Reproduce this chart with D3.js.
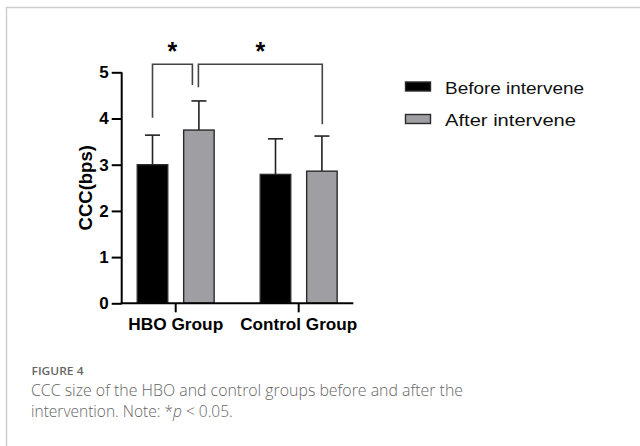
<!DOCTYPE html>
<html>
<head>
<meta charset="utf-8">
<script src="https://cdn.jsdelivr.net/npm/d3@7/dist/d3.min.js"></script>
<style>
  html, body { margin: 0; padding: 0; background: #fff; }
  svg { display: block; }
</style>
</head>
<body>
<svg id="chart" width="640" height="446"></svg>
<script>
// Groups, series and values (CCC, bps)
const groups = ["HBO Group", "Control Group"];
const seriesNames = ["Before intervene", "After intervene"];
const meanBefore = [3.0, 2.79];
const meanAfter = [3.75, 2.86];
const sdBefore = [0.64, 0.77];
const sdAfter = [0.63, 0.76];
const yTicks = [0, 1, 2, 3, 4, 5];
// Significant comparisons: [groupIndex, seriesIndex] pairs
const comparisons = [
  { a: [0, 0], b: [0, 1], label: "*" },
  { a: [0, 1], b: [1, 1], label: "*" }
];
const captionTitle = "FIGURE 4";
const captionLine1 = "CCC size of the HBO and control groups before and after the";

const seriesFill = ["#000000", "#9f9fa3"];
const svg = d3.select("#chart");

// Frame
svg.append("path")
  .attr("d", "M6.5,446 V7.5 H640")
  .attr("fill", "none").attr("stroke", "#cfcfcf").attr("stroke-width", 1.5);

const y = d3.scaleLinear().domain([0, 5]).range([303.3, 72.3]);
const x = d3.scaleBand().domain(groups).range([114.2, 360.2]).padding(0);
const xs = d3.scalePoint().domain(seriesNames).range([-23.2, 23.2]);
const barW = 30.5;
const axisX = 121.7;

const rows = [];
groups.forEach((g, i) => {
  rows.push({ g, s: seriesNames[0], v: meanBefore[i], sd: sdBefore[i], k: 0 });
  rows.push({ g, s: seriesNames[1], v: meanAfter[i], sd: sdAfter[i], k: 1 });
});
const cx = d => x(d.g) + x.bandwidth() / 2 + xs(d.s);

// Error bars (upper only)
const eb = svg.append("g").attr("stroke", "#222").attr("stroke-width", 1.6);
eb.selectAll("line.v").data(rows).join("line")
  .attr("x1", cx).attr("x2", cx)
  .attr("y1", d => y(d.v)).attr("y2", d => y(d.v + d.sd));
eb.selectAll("line.c").data(rows).join("line")
  .attr("x1", d => cx(d) - 7.5).attr("x2", d => cx(d) + 7.5)
  .attr("y1", d => y(d.v + d.sd)).attr("y2", d => y(d.v + d.sd));

// Bars
svg.append("g").selectAll("rect").data(rows).join("rect")
  .attr("x", d => cx(d) - barW / 2)
  .attr("width", barW)
  .attr("y", d => y(d.v))
  .attr("height", d => y(0) - y(d.v))
  .attr("fill", d => seriesFill[d.k])
  .attr("stroke", "#2a2a2a").attr("stroke-width", 1.4);

// Y axis
const yAxis = svg.append("g")
  .attr("transform", `translate(${axisX},0)`)
  .call(d3.axisLeft(y).tickValues(yTicks).tickFormat(d3.format("d")).tickSize(10).tickPadding(3));
yAxis.select(".domain").attr("stroke", "#000").attr("stroke-width", 2).attr("d", `M0,${y(5)}V${y(0)}`);
yAxis.selectAll(".tick line").attr("stroke", "#000").attr("stroke-width", 2);
yAxis.selectAll(".tick text")
  .attr("font-family", "Liberation Sans, Arial, sans-serif")
  .attr("font-weight", "bold").attr("font-size", 17).attr("fill", "#000");

// X axis
const xAxis = svg.append("g")
  .attr("transform", `translate(0,${y(0)})`)
  .call(d3.axisBottom(x).tickSize(9).tickPadding(6));
xAxis.select(".domain").attr("stroke", "#000").attr("stroke-width", 2).attr("d", `M${axisX - 1},0H353.3`);
xAxis.selectAll(".tick line").attr("stroke", "#000").attr("stroke-width", 2);
xAxis.selectAll(".tick text")
  .attr("font-family", "Liberation Sans, Arial, sans-serif")
  .attr("font-weight", "bold").attr("font-size", 17).attr("fill", "#000")
  .attr("dy", "0.71em")
  .attr("textLength", (d, i) => [95, 117][i])
  .attr("lengthAdjust", "spacingAndGlyphs");

// Y axis title
svg.append("text")
  .attr("transform", `translate(91.5,${(y(0) + y(5)) / 2}) rotate(-90)`)
  .attr("text-anchor", "middle")
  .attr("font-family", "Liberation Sans, Arial, sans-serif")
  .attr("font-weight", "bold").attr("font-size", 18.5)
  .text("CCC(bps)");

// Significance brackets
const bracketTop = 64.3;
const pt = (gi, si) => x(groups[gi]) + x.bandwidth() / 2 + xs(seriesNames[si]);
const bracketDefs = [
  { x1: pt(0, 0), y1: 117.7, x2: pt(0, 1) - 6.5, y2: 85 },
  { x1: pt(0, 1) - 0.5, y1: 87.3, x2: pt(1, 1) + 0.4, y2: 124.3 }
];
comparisons.forEach((c, i) => {
  const b = bracketDefs[i];
  svg.append("path")
    .attr("d", `M${b.x1},${b.y1}V${bracketTop}H${b.x2}V${b.y2}`)
    .attr("fill", "none").attr("stroke", "#444").attr("stroke-width", 1.6);
  svg.append("text")
    .attr("x", (b.x1 + b.x2) / 2).attr("y", 60)
    .attr("text-anchor", "middle")
    .attr("font-family", "Liberation Sans, Arial, sans-serif")
    .attr("font-weight", "bold").attr("font-size", 25)
    .text(c.label);
});

// Legend
const legend = svg.append("g");
seriesNames.forEach((s, i) => {
  const ly = 82 + i * 32.5;
  legend.append("rect")
    .attr("x", 405.5).attr("y", ly).attr("width", 25).attr("height", 9)
    .attr("fill", seriesFill[i]).attr("stroke", "#2a2a2a").attr("stroke-width", 1.4);
  legend.append("text")
    .attr("x", 445).attr("y", ly + 11.8)
    .attr("font-family", "Liberation Sans, Arial, sans-serif")
    .attr("font-size", 17).attr("fill", "#111")
    .attr("textLength", [139, 131][i]).attr("lengthAdjust", "spacingAndGlyphs")
    .text(s);
});

// Caption
const cap = svg.append("g").attr("font-family", "Open Sans, sans-serif").attr("fill", "#666");
cap.append("text").attr("x", 31.5).attr("y", 375)
  .attr("font-size", 11.5).attr("font-weight", 600)
  .attr("textLength", 52).attr("lengthAdjust", "spacingAndGlyphs")
  .text(captionTitle);
cap.append("text").attr("x", 31).attr("y", 396)
  .attr("font-size", 15.5).attr("font-weight", 300)
  .attr("textLength", 432).attr("lengthAdjust", "spacingAndGlyphs")
  .text(captionLine1);
const l2 = cap.append("text").attr("x", 31).attr("y", 417)
  .attr("font-size", 15.5).attr("font-weight", 300);
l2.append("tspan").text("intervention. Note: *");
l2.append("tspan").attr("font-style", "italic").text("p");
l2.append("tspan").text(" < 0.05.");
</script>
</body>
</html>
